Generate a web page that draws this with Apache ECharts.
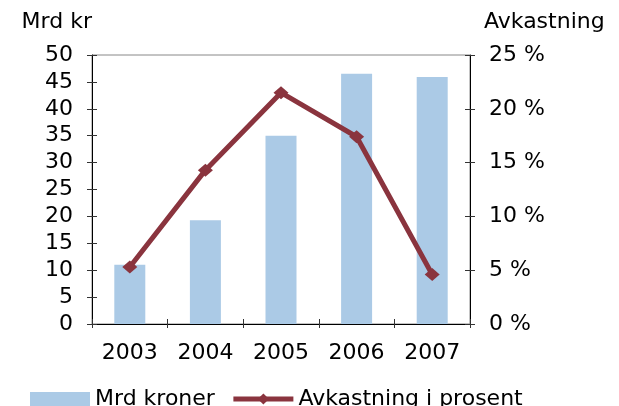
<!DOCTYPE html>
<html>
<head>
<meta charset="utf-8">
<script src="https://cdn.jsdelivr.net/npm/echarts@6/dist/echarts.min.js"></script>
<style>
  html, body { margin: 0; padding: 0; background: #fff; }
  #chart { width: 619px; height: 406px; }
</style>
</head>
<body>
<div id="chart"></div>
<script>
  var years = ['2003', '2004', '2005', '2006', '2007'];
  var mrdKroner = [11.0, 19.3, 35.0, 46.5, 45.9];
  var avkastning = [5.3, 14.3, 21.5, 17.4, 4.6];

  var font = 'DejaVu Sans';
  var fs = 22;
  var chart = echarts.init(document.getElementById('chart'));

  // ticks crossing the axis: one axis draws outside ticks, a twin draws inside ticks
  function valAxis(pos, max, interval, fmt, inside, name) {
    return {
      type: 'value',
      position: pos,
      min: 0,
      max: max,
      interval: interval,
      name: name || '',
      nameLocation: 'end',
      nameGap: 22,
      nameTextStyle: {
        fontFamily: font, fontSize: fs, color: '#000',
        align: pos === 'left' ? 'right' : 'left',
        padding: pos === 'left' ? [0, 0, 0, 0] : [0, 0, 0, 14]
      },
      axisLine: { show: !inside, lineStyle: { color: '#000', width: 1 } },
      axisTick: { show: true, inside: inside, length: 5, lineStyle: { color: '#333' } },
      axisLabel: {
        show: !inside,
        fontFamily: font, fontSize: fs, color: '#000',
        margin: pos === 'left' ? 19 : 19,
        formatter: fmt
      },
      splitLine: { show: false }
    };
  }

  var option = {
    animation: false,
    grid: {
      left: 92, right: 149, top: 55, bottom: 82,
      show: true, borderColor: '#888', borderWidth: 1
    },
    legend: {
      left: 25,
      top: 383,
      itemWidth: 60,
      itemHeight: 14,
      itemGap: 16,
      textStyle: { fontFamily: font, fontSize: fs, color: '#000' },
      data: [
        { name: 'Mrd kroner', icon: 'rect' },
        { name: 'Avkastning i prosent', lineStyle: { width: 5 } }
      ]
    },
    xAxis: [
      {
        type: 'category',
        data: years,
        axisLine: { lineStyle: { color: '#000', width: 1 } },
        axisTick: { show: true, length: 4, lineStyle: { color: '#333' } },
        axisLabel: { fontFamily: font, fontSize: fs, color: '#000', margin: 18 }
      },
      {
        type: 'category',
        data: years,
        position: 'bottom',
        axisLine: { show: false },
        axisTick: { show: true, inside: true, length: 5, lineStyle: { color: '#333' } },
        axisLabel: { show: false }
      }
    ],
    yAxis: [
      valAxis('left', 50, 5, '{value}', false, 'Mrd kr'),
      valAxis('right', 25, 5, '{value} %', false, 'Avkastning'),
      valAxis('left', 50, 5, '{value}', true),
      valAxis('right', 25, 5, '{value} %', true)
    ],
    series: [
      {
        name: 'Mrd kroner',
        type: 'bar',
        xAxisIndex: 0,
        yAxisIndex: 0,
        barWidth: 31,
        itemStyle: { color: '#abcae6' },
        data: mrdKroner
      },
      {
        name: 'Avkastning i prosent',
        type: 'line',
        xAxisIndex: 0,
        yAxisIndex: 1,
        symbol: 'diamond',
        symbolSize: [15, 13],
        lineStyle: { color: '#8a343e', width: 5 },
        itemStyle: { color: '#8a343e' },
        data: avkastning
      }
    ]
  };

  chart.setOption(option);
</script>
</body>
</html>
